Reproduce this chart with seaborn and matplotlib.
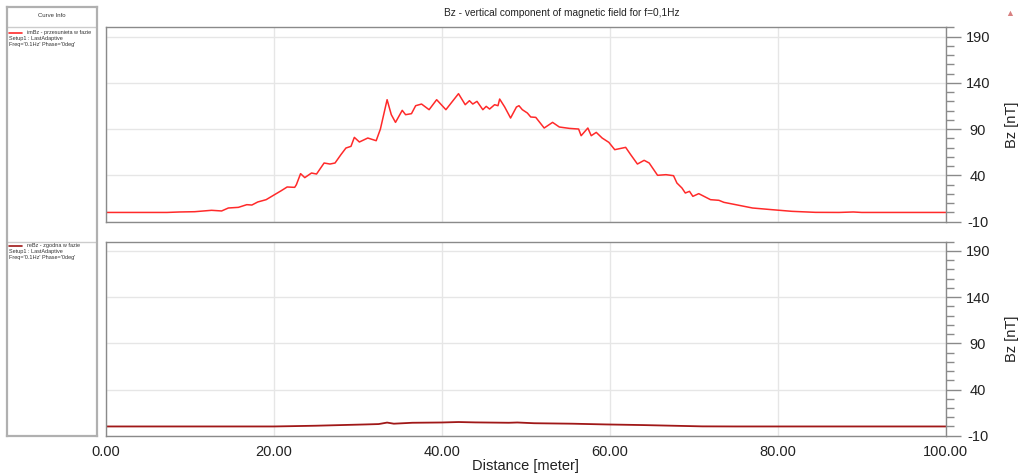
import matplotlib
matplotlib.use("Agg")
import matplotlib.pyplot as plt
import matplotlib.ticker as ticker
import seaborn as sns
import numpy as np
import pandas as pd

# imBz - przesunieta w fazie (top panel)
distance_im = [0, 7.3, 8.8, 10.6, 12.6, 13.8, 14.6, 15.8, 16.8, 17.4, 18.1, 19.1, 20.1, 20.9, 21.6,
               22.5, 22.7, 23.2, 23.7, 24.5, 25.1, 26.0, 26.7, 27.3, 28.0, 28.6, 29.2, 29.6, 30.2,
               31.2, 32.2, 32.7, 33.5, 34.0, 34.5, 35.3, 35.7, 36.4, 36.9, 37.6, 38.5, 39.4, 40.5,
               42.0, 42.8, 43.3, 43.7, 44.2, 44.9, 45.3, 45.7, 46.3, 46.7, 46.9, 47.5, 48.2, 48.9,
               49.2, 49.6, 50.2, 50.6, 51.2, 52.2, 53.2, 54.0, 55.2, 56.3, 56.6, 57.4, 57.8, 58.4,
               59.1, 59.9, 60.6, 61.9, 62.5, 63.3, 64.1, 64.7, 65.7, 66.7, 67.6, 68.0, 68.6, 69.0,
               69.5, 69.9, 70.6, 72.0, 73.0, 73.6, 75.0, 77.0, 79.3, 81.7, 84.5, 87.3, 89.0, 90.0, 100]
bz_im = [0, 0, 0.5, 0.8, 2.3, 1.6, 4.8, 5.5, 8.4, 8.0, 11.3, 13.8, 19.2, 23.5, 27.5,
         27.1, 30, 41.9, 37.6, 42.6, 41.5, 53.4, 52.3, 53.4, 62.4, 69.6, 71.4, 81.1, 76.1,
         80.4, 77.5, 90, 121.8, 105.6, 97.3, 110.3, 105.6, 106.7, 115.3, 117.1, 111, 121.8, 111,
         128.3, 116.4, 120.7, 117.1, 120, 111, 114.6, 111.7, 116.4, 115.3, 122.5, 113.9, 102, 113.9,
         115.3, 111, 107.4, 103.1, 102.7, 91.2, 97.3, 92.3, 90.8, 90.1, 82.9, 91.2, 82.9, 86.5,
         80.4, 75.7, 67.8, 70.3, 62.4, 52.3, 56.3, 53.4, 40.1, 40.8, 39.7, 31.8, 26.4, 21,
         22.8, 17.4, 20.3, 13.8, 13.1, 10.9, 8.4, 4.8, 3.0, 1.2, 0.1, 0, 0.5, 0, 0]

# reBz - zgodna w fazie (bottom panel)
distance_re = [0, 20, 22, 25, 28, 31, 32.5, 33.5, 34.3, 36.5, 40, 42, 44, 48, 49, 51,
               55.5, 59.5, 64, 68, 71, 75, 100]
bz_re = [0, 0, 0.3, 0.8, 1.5, 2.2, 2.6, 4.2, 3.0, 4.0, 4.3, 4.8, 4.4, 4.0, 4.3, 3.5,
         3.0, 2.2, 1.5, 0.7, 0.1, 0, 0]

curve_names = ["imBz - przesunieta w fazie", "reBz - zgodna w fazie"]
curve_colors = ["#ff2a2a", "#a01818"]
setup_text = "Setup1 : LastAdaptive\nFreq='0.1Hz' Phase='0deg'"
y_ticks = [-10, 40, 90, 140, 190]
x_ticks = [0, 20, 40, 60, 80, 100]

sns.set_style("white")
plt.rcParams['font.family'] = ['Liberation Sans', 'DejaVu Sans']
plt.rcParams['axes.unicode_minus'] = False

W, H = 1018, 475
fig = plt.figure(figsize=(W / 100, H / 100), dpi=100)

def fx(px):
    return px / W

def fy(py):
    return 1 - py / H

# left "Curve Info" box
box = fig.add_axes([fx(6.7), fy(436), fx(90), (436 - 6.7) / H])
box.set_xlim(0, 90)
box.set_ylim(436, 6.7)
box.set_xticks([])
box.set_yticks([])
for s in box.spines.values():
    s.set_color("#b0b0b0")
    s.set_linewidth(1.6)
box.axhline(26.7, color="#cccccc", lw=1)
box.axhline(241.7, color="#cccccc", lw=1)
box.text(45, 16, "Curve Info", ha="center", va="center", fontsize=4.3, color="#333333")
for top, name, col in zip([33, 246], curve_names, curve_colors):
    box.plot([2, 15], [top, top], color=col, lw=1.2)
    box.text(20, top, name, ha="left", va="center", fontsize=4, color="#333333")
    box.text(2, top + 3.5, setup_text, ha="left", va="top", fontsize=4, color="#333333",
             linespacing=1.15)

fig.text(fx(562), fy(13), "Bz - vertical component of magnetic field for f=0,1Hz",
         ha="center", va="center", fontsize=7.3, color="#222222")
fig.text(fx(1010), fy(13), "\u25b2", ha="center", va="center", fontsize=6.5, color="#d88080")

ax_top = fig.add_axes([fx(105.7), fy(221.7), fx(840), 194.4 / H])
ax_bot = fig.add_axes([fx(105.7), fy(435.7), fx(840), 194 / H])

sns.lineplot(x=distance_im, y=bz_im, ax=ax_top, color=curve_colors[0], lw=1.1)
sns.lineplot(x=distance_re, y=bz_re, ax=ax_bot, color=curve_colors[1], lw=1.3)

for ax in [ax_top, ax_bot]:
    ax.set_xlim(0, 100)
    ax.set_ylim(-10, 200)
    ax.yaxis.tick_right()
    ax.yaxis.set_label_position("right")
    ax.set_yticks(y_ticks)
    ax.yaxis.set_minor_locator(ticker.MultipleLocator(10))
    ax.set_xticks(x_ticks)
    ax.xaxis.set_minor_locator(ticker.MultipleLocator(4))
    ax.grid(True, which="major", color="#e6e6e6", lw=1)
    for s in ax.spines.values():
        s.set_color("#8a8a8a")
        s.set_linewidth(1)
    ax.tick_params(axis="y", which="major", length=11, width=1, color="#8a8a8a",
                   labelsize=10.5, labelcolor="#222222", pad=12)
    ax.tick_params(axis="y", which="minor", length=6, width=1, color="#8a8a8a")
    for lab in ax.get_yticklabels():
        lab.set_horizontalalignment("center")
    ax.set_ylabel("Bz [nT]", fontsize=10.5, color="#222222")
    ax.yaxis.set_label_coords(1.07, 0.5)

ax_top.tick_params(axis="x", which="both", length=0, labelbottom=False)
ax_bot.tick_params(axis="x", which="major", length=7, width=1, color="#8a8a8a",
                   labelsize=10.5, labelcolor="#222222", pad=0)
ax_bot.xaxis.set_minor_locator(ticker.MultipleLocator(4))
ax_bot.tick_params(axis="x", which="minor", length=4, width=1, color="#8a8a8a")
ax_bot.xaxis.set_major_formatter(ticker.FormatStrFormatter("%.2f"))
ax_bot.set_xlabel("Distance [meter]", fontsize=10.5, color="#222222", labelpad=0)
ax_bot.xaxis.set_label_coords(0.5, -0.12)

fig.savefig("out.png", dpi=100)
